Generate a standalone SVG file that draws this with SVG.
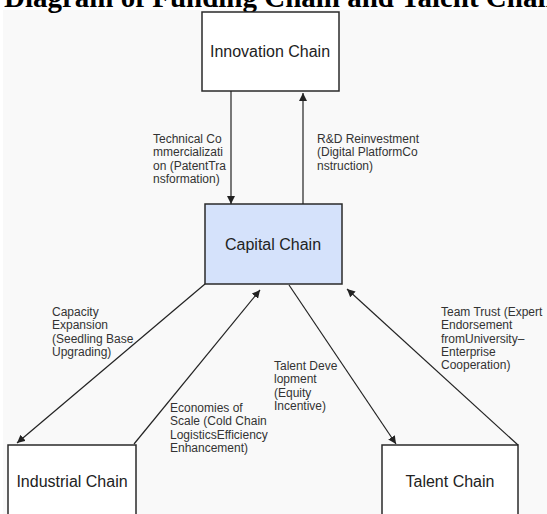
<svg xmlns="http://www.w3.org/2000/svg" width="547" height="514" viewBox="0 0 547 514">
<style>
.title{font-family:"Liberation Serif","Times New Roman",serif;font-weight:bold;font-size:29px;fill:#000}
.box{fill:#ffffff;stroke:#2a2a2a;stroke-width:1.5}
.cap{fill:#d5e2fb;stroke:#2a2a2a;stroke-width:1.5}
.nl{font-family:"Liberation Sans",Arial,sans-serif;font-size:16px;fill:#222;text-anchor:middle}
.el{font-family:"Liberation Sans",Arial,sans-serif;font-size:12px;fill:#333}
.edge{stroke:#222;stroke-width:1.2;fill:none;marker-end:url(#ah)}
</style>
<defs>
<marker id="ah" viewBox="0 0 10 10" refX="10" refY="5" markerWidth="8" markerHeight="8" markerUnits="userSpaceOnUse" orient="auto">
<path d="M0,0 L10,5 L0,10 Z" fill="#222"/>
</marker>
</defs>
<rect x="0" y="0" width="547" height="514" fill="#ffffff"/>
<rect x="3" y="10" width="544" height="504" fill="#f9f9f9"/>
<text class="title" x="4" y="7">Diagram of Funding Chain and Talent Chain</text>

<g id="innovation">
<rect class="box" x="202" y="12" width="137" height="79"/>
<text class="nl" x="270" y="57">Innovation Chain</text>
</g>
<g id="capital">
<rect class="cap" x="205" y="204" width="137" height="80"/>
<text class="nl" x="273" y="250">Capital Chain</text>
</g>
<g id="industrial">
<rect class="box" x="8" y="445" width="128" height="80"/>
<text class="nl" x="72" y="487">Industrial Chain</text>
</g>
<g id="talent">
<rect class="box" x="382" y="445" width="136" height="80"/>
<text class="nl" x="450" y="487">Talent Chain</text>
</g>

<g id="connectors">
<line class="edge" x1="231" y1="91" x2="231" y2="204"/>
<line class="edge" x1="303" y1="204" x2="303" y2="93"/>
<line class="edge" x1="205" y1="284" x2="17" y2="443"/>
<line class="edge" x1="134" y1="444" x2="260" y2="290"/>
<line class="edge" x1="289" y1="285" x2="396" y2="444"/>
<line class="edge" x1="518" y1="445" x2="347" y2="289"/>
<text class="el" x="153" y="142.7">Technical Co</text>
<text class="el" x="153" y="156.1">mmercializati</text>
<text class="el" x="153" y="169.5">on (PatentTra</text>
<text class="el" x="153" y="182.9">nsformation)</text>
<text class="el" x="317" y="142.7">R&amp;D Reinvestment</text>
<text class="el" x="317" y="156.1">(Digital PlatformCo</text>
<text class="el" x="317" y="169.5">nstruction)</text>
<text class="el" x="52" y="315.7">Capacity</text>
<text class="el" x="52" y="329.1">Expansion</text>
<text class="el" x="52" y="342.5">(Seedling Base</text>
<text class="el" x="52" y="355.9">Upgrading)</text>
<text class="el" x="170" y="411.7">Economies of</text>
<text class="el" x="170" y="425.1">Scale (Cold Chain</text>
<text class="el" x="170" y="438.5">LogisticsEfficiency</text>
<text class="el" x="170" y="451.9">Enhancement)</text>
<text class="el" x="274" y="370">Talent Deve</text>
<text class="el" x="274" y="383.4">lopment</text>
<text class="el" x="274" y="396.8">(Equity</text>
<text class="el" x="274" y="410.2">Incentive)</text>
<text class="el" x="441" y="315.7">Team Trust (Expert</text>
<text class="el" x="441" y="329.1">Endorsement</text>
<text class="el" x="441" y="342.5">fromUniversity–</text>
<text class="el" x="441" y="355.9">Enterprise</text>
<text class="el" x="441" y="369.3">Cooperation)</text>
</g>
</svg>
